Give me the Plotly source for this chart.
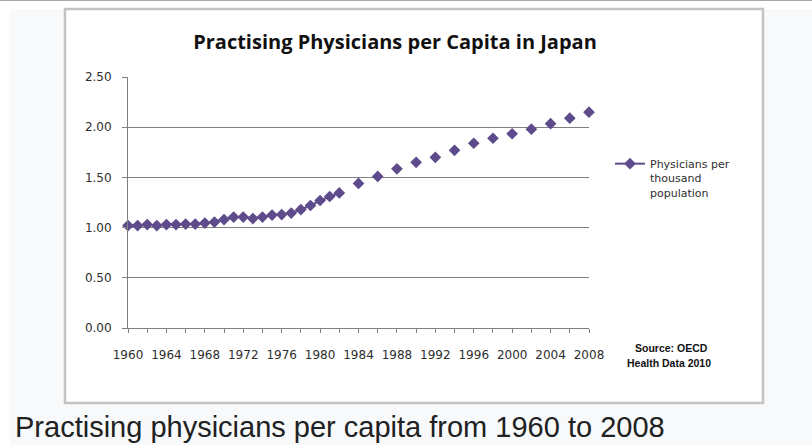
import plotly.graph_objects as go

# Practising physicians per thousand population, Japan (OECD Health Data 2010).
# Annual figures to 1982, then every second year; None = no observation.
years = list(range(1960, 2009))
physicians = [
    1.02, 1.02, 1.03, 1.02, 1.03, 1.03, 1.035, 1.035, 1.045, 1.055,  # 1960-69
    1.08, 1.105, 1.105, 1.09, 1.105, 1.125, 1.13, 1.145, 1.18, 1.22,  # 1970-79
    1.27, 1.31, 1.345, None, 1.44, None, 1.51, None, 1.585, None,     # 1980-89
    1.65, None, 1.70, None, 1.77, None, 1.84, None, 1.89, None,       # 1990-99
    1.935, None, 1.98, None, 2.035, None, 2.09, None, 2.15,           # 2000-08
]

x_tick_years = list(range(1960, 2009, 4))
x_tick_labels = [str(y) for y in x_tick_years]
y_tick_values = [0.0, 0.5, 1.0, 1.5, 2.0, 2.5]

series_name = "Physicians per<br>thousand<br>population"
title_text = "Practising Physicians per Capita in Japan"
source_lines = ["Source: OECD", "Health Data 2010"]
caption_text = "Practising physicians per capita from 1960 to 2008"

W, H = 812, 445
L, R, T, B = 128, 223, 77, 117
PW, PH = W - L - R, H - T - B

def px(x):
    return (x - L) / PW

def py(y):
    return (T + PH - y) / PH

PURPLE = "#5E4B8B"
GRID = "#808080"
TEXT = "#2e2e2e"

fig = go.Figure()
fig.add_trace(go.Scatter(
    x=years, y=physicians, name=series_name,
    mode="lines+markers", connectgaps=False, cliponaxis=False,
    line=dict(color=PURPLE, width=2),
    marker=dict(symbol="diamond", size=9, color=PURPLE),
))

shapes = [
    # page background and thumbnail frame
    dict(type="rect", xref="paper", yref="paper", x0=px(0), x1=px(W), y0=py(H), y1=py(0),
         fillcolor="white", line=dict(width=0), layer="below"),
    dict(type="line", xref="paper", yref="paper", x0=px(0), x1=px(W), y0=py(0.5), y1=py(0.5),
         line=dict(color="#a2a9b1", width=1), layer="below"),
    dict(type="rect", xref="paper", yref="paper", x0=px(10), x1=px(W + 5), y0=py(H + 5), y1=py(9),
         fillcolor="#f8f9fa", line=dict(width=0), layer="below"),
    dict(type="rect", xref="paper", yref="paper", x0=px(65), x1=px(763), y0=py(403), y1=py(9),
         fillcolor="white", line=dict(color="#c4c4c4", width=2.5), layer="below"),
]

annotations = [
    dict(text=source_lines[0], xref="paper", yref="paper", x=px(671), y=py(348),
         showarrow=False, xanchor="center", yanchor="middle",
         font=dict(family="Liberation Sans", size=10.5, color="#111111", weight="bold")),
    dict(text=source_lines[1], xref="paper", yref="paper", x=px(669), y=py(363),
         showarrow=False, xanchor="center", yanchor="middle",
         font=dict(family="Liberation Sans", size=10.5, color="#111111", weight="bold")),
    dict(text=caption_text, xref="paper", yref="paper", x=px(13), y=py(444.5),
         showarrow=False, xanchor="left", yanchor="bottom",
         font=dict(family="Liberation Sans", size=29, color="#202122")),
]

fig.update_layout(
    width=W, height=H,
    margin=dict(l=L, r=R, t=T, b=B, pad=0, autoexpand=False),
    paper_bgcolor="white", plot_bgcolor="rgba(0,0,0,0)",
    title=dict(text=title_text, x=395 / W, y=1 - 42 / H, xref="container", yref="container",
               xanchor="center", yanchor="middle",
               font=dict(family="Open Sans", size=20, color="#111111", weight="bold")),
    showlegend=True,
    legend=dict(x=610 / W, y=1 - 150 / H, xref="container", yref="container",
                xanchor="left", yanchor="top", valign="top",
                bgcolor="rgba(0,0,0,0)",
                font=dict(family="DejaVu Sans", size=11, color=TEXT)),
    shapes=shapes, annotations=annotations,
    font=dict(family="DejaVu Sans", color=TEXT),
)

fig.update_xaxes(
    range=[1960, 2008], tickvals=x_tick_years, ticktext=x_tick_labels,
    showgrid=False, zeroline=False, showline=True, linecolor=GRID, linewidth=1,
    ticks="outside", ticklen=4, tickcolor=GRID, ticklabelstandoff=12,
    minor=dict(dtick=2, tick0=1960, ticks="outside", ticklen=4, tickcolor=GRID, showgrid=False),
    tickfont=dict(family="DejaVu Sans", size=12, color=TEXT),
)
fig.update_yaxes(
    range=[0, 2.5], tickvals=y_tick_values, tickformat=".2f",
    showgrid=True, gridcolor=GRID, gridwidth=1, zeroline=False,
    showline=True, linecolor=GRID, linewidth=1,
    ticks="outside", ticklen=5, tickcolor=GRID, ticklabelstandoff=8,
    tickfont=dict(family="DejaVu Sans", size=12, color=TEXT),
)

fig.write_html("out.html")
